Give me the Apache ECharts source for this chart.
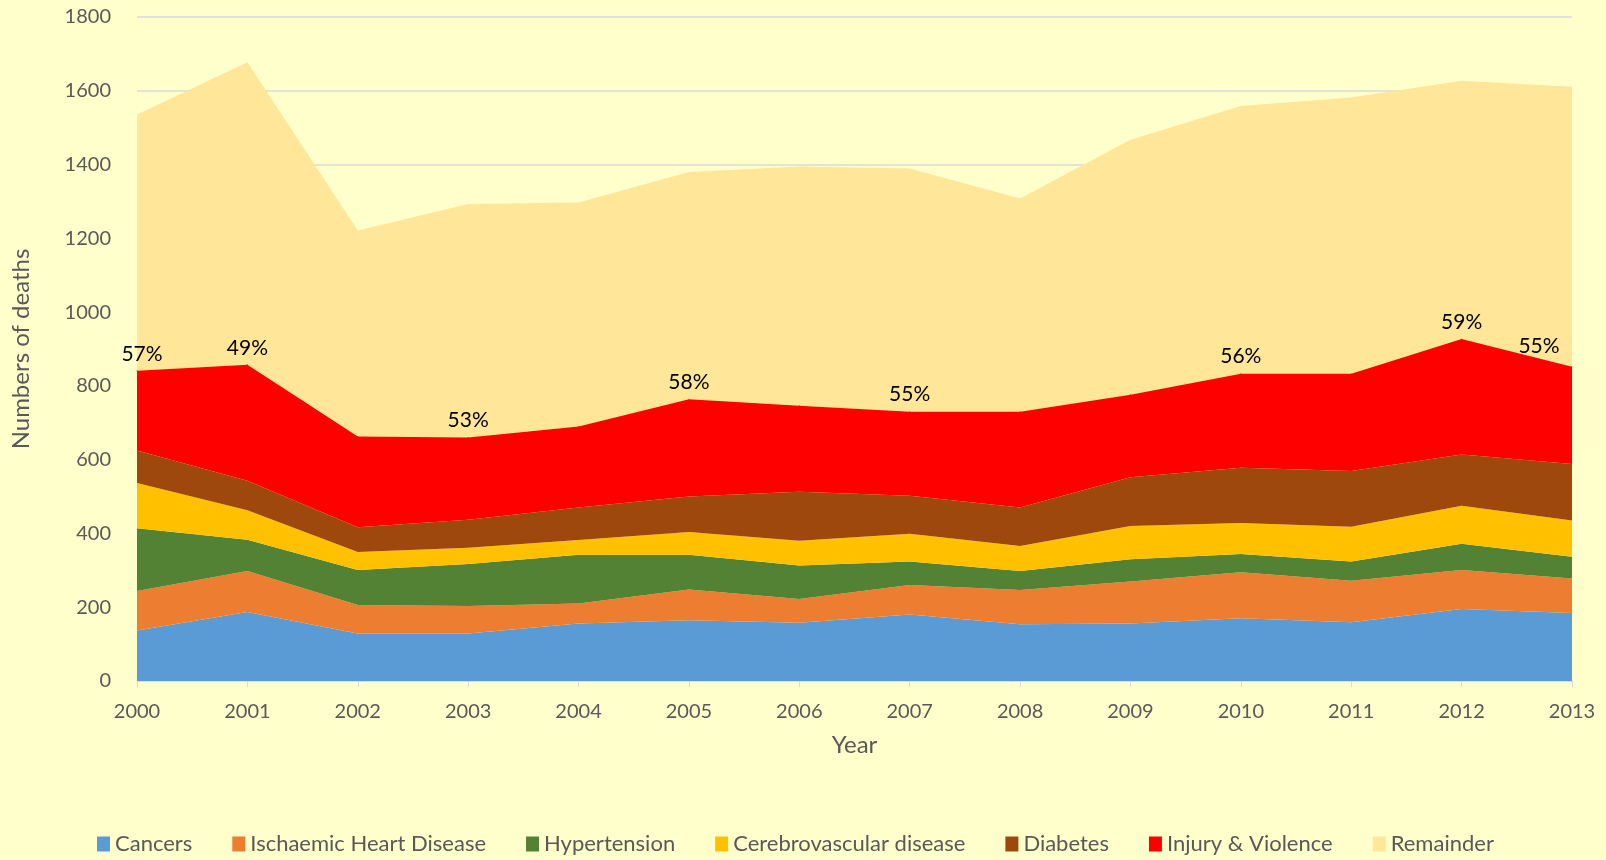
<!DOCTYPE html>
<html><head><meta charset="utf-8">
<script src="https://cdn.jsdelivr.net/npm/echarts@6/dist/echarts.min.js"></script>
<style>html,body{margin:0;padding:0;background:#FFFFCC;}#c{width:1606px;height:860px;}</style>
</head><body><div id="c"></div>
<script>
const years = ['2000','2001','2002','2003','2004','2005','2006','2007','2008','2009','2010','2011','2012','2013'];
const cancers = [137,187,129,129,156,165,158,180,154,156,170,159,195,184];
const ischaemic = [107,111,77,74,54,83,64,80,93,114,125,113,106,94];
const hypertension = [170,85,95,114,132,94,91,64,51,60,49,52,71,59];
const cerebro = [123,80,49,44,40,62,67,75,68,90,84,94,103,98];
const diabetes = [88,80,67,76,88,96,133,103,104,132,150,151,139,153];
const injury = [216,314,246,223,220,264,233,228,260,224,255,264,313,264];
const remainder = [695,820,558,633,607,616,649,659,578,691,726,749,700,759];
const pctLabels = ['57%','49%','','53%','','58%','','55%','','','56%','','59%','55%'];

const names = ['Cancers','Ischaemic Heart Disease','Hypertension','Cerebrovascular disease','Diabetes','Injury & Violence','Remainder'];
const colors = ['#5B9BD5','#ED7D31','#548235','#FFC000','#9E480E','#FF0000','#FFE699'];
const datas = [cancers,ischaemic,hypertension,cerebro,diabetes,injury,remainder];
const FONT = 'Lato, "Open Sans", sans-serif';

const series = datas.map((d,i)=>{
  const s = {
    name: names[i], type:'line', stack:'total', data: d.slice(),
    symbol:'none', lineStyle:{width:0}, areaStyle:{color:colors[i], opacity:1},
    itemStyle:{color:colors[i]}, z: 2, emphasis:{disabled:true}
  };
  if (names[i]==='Injury & Violence') {
    s.symbol = 'circle';
    s.symbolSize = 1;
    s.showSymbol = true;
    s.z = 5;
    s.labelLayout = function(p){
      if (p.dataIndex===13) return {dx:-33, dy:-3, hideOverlap:false};
      if (p.dataIndex===0) return {dx:5, hideOverlap:false};
      return {hideOverlap:false};
    };
    s.data = d.map((v,j)=>{
      const o = {value:v, label:{show:false}};
      if (pctLabels[j]) {
        o.label = {show:true, formatter: pctLabels[j], position:'top', distance:6,
          color:'#000', fontSize:21, fontFamily:FONT};
      }
      return o;
    });
  }
  return s;
});

const chart = echarts.init(document.getElementById('c'), null, {renderer:'canvas'});
chart.setOption({
  backgroundColor:'#FFFFCC',
  animation:false,
  grid:{left:137, right:34, top:17, bottom:179, containLabel:false},
  legend:{
    bottom:0, left:92, itemWidth:13, itemHeight:15, itemGap:40,
    icon:'rect',
    textStyle:{color:'#595959', fontSize:22, fontFamily:FONT},
    data: names
  },
  xAxis:{
    type:'category', data:years, boundaryGap:false,
    name:'Year', nameLocation:'middle', nameGap:52,
    nameTextStyle:{color:'#595959', fontSize:24, fontFamily:FONT},
    axisLine:{lineStyle:{color:'#D9D9D9', width:1.5}},
    axisTick:{show:true, alignWithLabel:true, length:6, lineStyle:{color:'#D9D9D9'}},
    axisLabel:{color:'#595959', fontSize:20, fontFamily:FONT, margin:21},
    splitLine:{show:false}
  },
  yAxis:{
    type:'value', min:0, max:1800, interval:200,
    name:'Numbers of deaths', nameLocation:'middle', nameGap:104, nameRotate:90,
    nameTextStyle:{color:'#595959', fontSize:24, fontFamily:FONT},
    axisLine:{show:false}, axisTick:{show:false},
    axisLabel:{color:'#595959', fontSize:20, fontFamily:FONT, margin:26, formatter:v=>String(v)},
    splitLine:{show:true, lineStyle:{color:'#D9D9D9', width:1.5}}
  },
  series: series
});
</script>
</body></html>
